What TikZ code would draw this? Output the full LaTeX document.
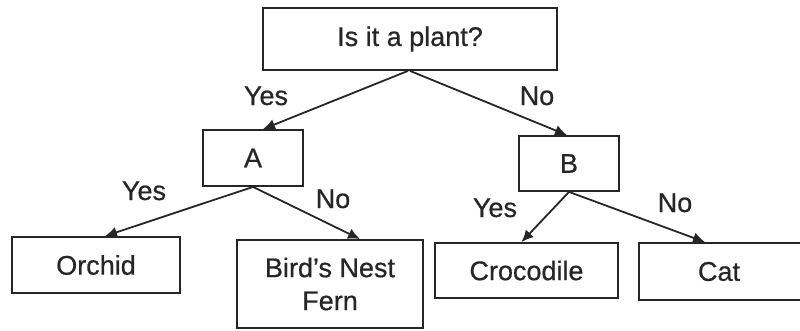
\documentclass[tikz,border=0pt]{standalone}
\usepackage{fontspec}
\setmainfont{Liberation Sans}[UprightFeatures={FakeBold=0.6}]
\usetikzlibrary{arrows.meta}
\begin{document}
\begin{tikzpicture}[x=1pt,y=-1pt,
  box/.style={draw=black!85,line width=1.8pt,rectangle,inner sep=0pt,align=center,
    font=\fontsize{27}{33}\selectfont,text=black!85},
  lbl/.style={anchor=base,inner sep=0pt,font=\fontsize{27}{33}\selectfont,text=black!85},
  arr/.style={line width=1.8pt,draw=black!85,-{Latex[length=12pt,width=11pt]}}]
\useasboundingbox (0,0) rectangle (800,330);
\node[box,minimum width=294pt,minimum height=62pt] (q) at (410,39) {Is it a plant?};
\node[box,minimum width=100pt,minimum height=56pt] (A) at (253,158) {A};
\node[box,minimum width=100pt,minimum height=55pt] (B) at (569,163.5) {B};
\node[box,minimum width=168pt,minimum height=56pt] (o) at (96,265) {Orchid};
\node[box,minimum width=186pt,minimum height=88pt] (f) at (330,284) {Bird's Nest\\Fern};
\node[box,minimum width=183pt,minimum height=55pt] (c) at (526.5,270.5) {Crocodile};
\node[box,minimum width=166pt,minimum height=57pt,text width=166pt] (k) at (722,271.5) {\hspace*{-3pt}Cat\hspace*{3pt}};
\draw[arr] ([xshift=-2pt]q.south) -- ([xshift=10pt]A.north);
\draw[arr] ([xshift=0pt]q.south) -- ([xshift=-2pt]B.north);
\draw[arr] (A.south) -- ([xshift=9pt]o.north);
\draw[arr] (A.south) -- ([xshift=30pt]f.north);
\draw[arr] (B.south) -- ([xshift=-5pt]c.north);
\draw[arr] (B.south) -- ([xshift=-17pt]k.north);
\node[lbl] (l1) at (266,105) {Yes};
\node[lbl] (l2) at (537,105) {No};
\node[lbl] (l3) at (144,200) {Yes};
\node[lbl] (l4) at (333,208) {No};
\node[lbl] (l5) at (495,217) {Yes};
\node[lbl] (l6) at (675,212) {No};
\end{tikzpicture}
\end{document}
